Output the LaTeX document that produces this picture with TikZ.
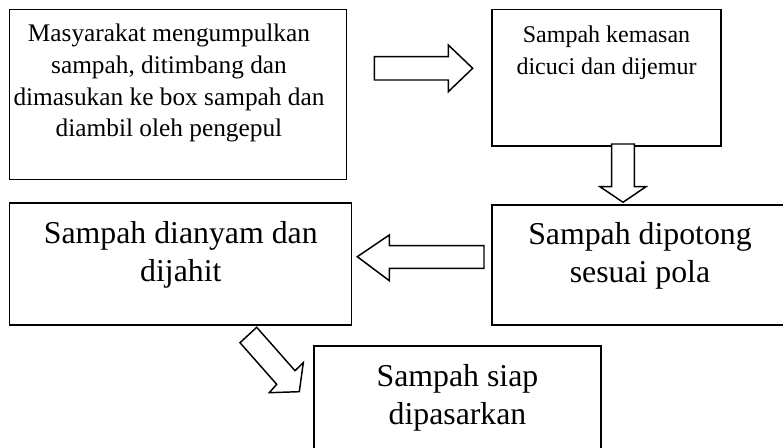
\documentclass[tikz,border=0pt]{standalone}
\usepackage{fontspec}
\setmainfont{Liberation Serif}
\usetikzlibrary{fit}
\tikzset{
  boxnode/.style={draw=black, line width=1.4pt, inner sep=0pt, fill=none},
  blockarrow/.style={draw=black, line width=1.1pt, fill=white, line join=miter},
  smalltext/.style={anchor=base, inner sep=0pt, font=\fontsize{19pt}{23.8pt}\selectfont},
  smallertext/.style={anchor=base, inner sep=0pt, font=\fontsize{18pt}{23.8pt}\selectfont},
  bigtext/.style={anchor=base, inner sep=0pt, font=\fontsize{23.85pt}{28.5pt}\selectfont}
}
\newcommand{\lines}[1]{\begin{tabular}[t]{@{}c@{}}#1\end{tabular}}
\begin{document}
\begin{tikzpicture}[x=0.75pt,y=-0.75pt]
\useasboundingbox (0,0) rectangle (783,448);
\clip (0,0) rectangle (783,448);
\fill[white] (0,0) rectangle (783,448);
% boxes
\coordinate (b1a) at (9.5,9.5);   \coordinate (b1b) at (346.5,179.5);
\coordinate (b2a) at (492,9.5);   \coordinate (b2b) at (721,146);
\coordinate (b3a) at (492,205);   \coordinate (b3b) at (788,325);
\coordinate (b4a) at (9.5,203);   \coordinate (b4b) at (351.5,325);
\coordinate (b5a) at (314,346);   \coordinate (b5b) at (601,470);
\node[boxnode, fit=(b1a)(b1b)] (b1) {};
\node[boxnode, fit=(b2a)(b2b)] (b2) {};
\node[boxnode, fit=(b3a)(b3b)] (b3) {};
\node[boxnode, fit=(b4a)(b4b)] (b4) {};
\node[boxnode, fit=(b5a)(b5b)] (b5) {};
% texts
\node[smalltext] (t1) at (169,41.7) {\lines{Masyarakat mengumpulkan\\sampah, ditimbang dan\\dimasukan ke box sampah dan\\diambil oleh pengepul}};
\node[smallertext] (t2) at (606.5,42.3) {\lines{Sampah kemasan\\dicuci dan dijemur}};
\node[bigtext] (t3) at (640,245) {\lines{Sampah dipotong\\sesuai pola}};
\node[bigtext] (t4) at (180.8,243.3) {\lines{Sampah dianyam dan\\dijahit}};
\node[bigtext] (t5) at (457.5,386.7) {\lines{Sampah siap\\dipasarkan}};
% block arrows
\draw[blockarrow] (374.3,56.7) -- (448.3,56.7) -- (448.3,45) -- (472.7,68.3) -- (448.3,91.7) -- (448.3,80) -- (374.3,80) -- cycle;
\draw[blockarrow] (611.7,144) -- (634.3,144) -- (634.3,186.7) -- (646,186.7) -- (623,202.3) -- (600,186.7) -- (611.7,186.7) -- cycle;
\draw[blockarrow] (484,245.7) -- (389.3,245.7) -- (389.3,235) -- (357.3,256.7) -- (389.3,280.7) -- (389.3,268.3) -- (484,268.3) -- cycle;
\draw[blockarrow] (256.7,327.3) -- (240,342.7) -- (276.7,384.3) -- (269.3,392.7) -- (299.3,391.7) -- (303.3,362.7) -- (295,370.7) -- cycle;
\end{tikzpicture}
\end{document}
